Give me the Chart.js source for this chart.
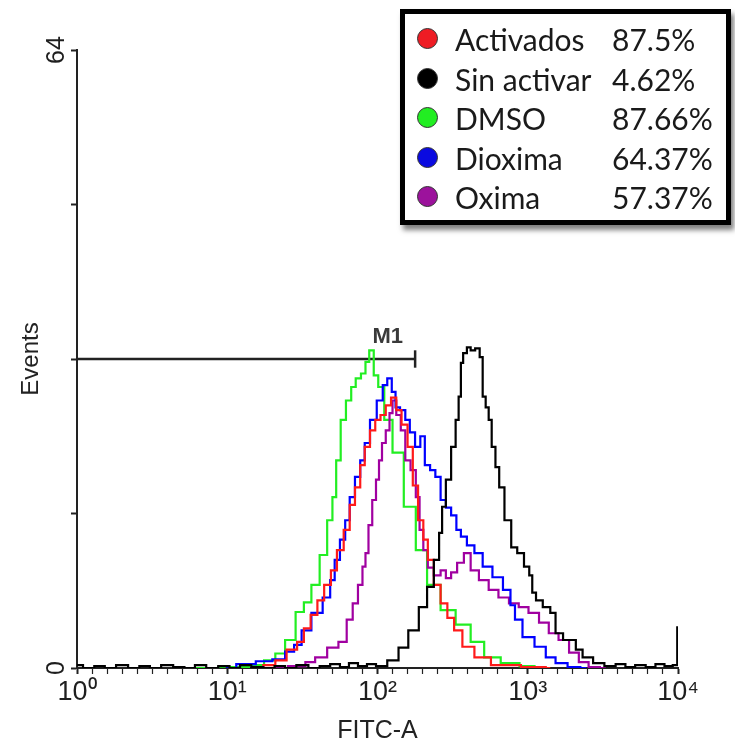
<!DOCTYPE html>
<html>
<head>
<meta charset="utf-8">
<script src="https://cdn.jsdelivr.net/npm/chart.js@4.4.1/dist/chart.umd.min.js"></script>
<style>
body { margin: 0; background: #fff; }
#wrap { position: relative; width: 735px; height: 746px; }
#legend {
    position: absolute; left: 400px; top: 9px; width: 321px; height: 206px;
    border: 5px solid #000; background: #fff;
    box-shadow: 3px 5px 5px rgba(0,0,0,0.5);
    font-family: Lato, "Open Sans", sans-serif; font-size: 30px; color: #1a1a1a;
}
.row { position: absolute; left: 0; height: 36px; line-height: 36px; width: 100%; }
.dot { position: absolute; left: 12px; top: 7px; width: 19px; height: 19px; border-radius: 50%; border: 1.5px solid #333; }
.name { position: absolute; left: 50px; }
.pct { position: absolute; left: 207px; }
</style>
</head>
<body>
<div id="wrap">
<canvas id="histo" width="735" height="746"></canvas>
<div id="legend"></div>
</div>
<script>
// x positions are in decades (log10 of FITC-A), y are events per channel
var activadosLog = [1.19,1.29,1.35,1.44,1.49,1.53,1.58,1.62,1.67,1.71,1.75,1.80,1.83,1.87,1.90,1.93,1.97,2.00,2.04,2.07,2.11,2.14,2.18,2.22,2.25,2.29,2.32,2.35,2.40,2.44,2.49,2.53,2.60,2.69,2.82,3.09,3.15];
var activadosCount = [0,0.3,0.8,1.9,2.7,4.1,5.5,7.0,8.6,10.1,12.2,14.3,16.9,18.7,21.0,22.9,24.6,25.7,26.2,27.2,28.0,26.7,25.2,22.9,18.9,15.3,13.3,11.2,8.6,6.7,5.2,3.9,2.2,1.1,0.3,0.1,0];

var sinActivarLog = [0.00,0.08,0.15,0.22,0.30,0.38,0.45,0.52,0.60,0.68,0.75,0.82,0.90,0.98,1.05,1.12,1.20,1.28,1.35,1.42,1.50,1.58,1.65,1.72,1.78,1.84,1.90,1.96,
    2.02,2.11,2.17,2.24,2.31,2.35,2.40,2.42,2.44,2.47,2.51,2.53,2.55,2.56,2.58,2.61,2.63,2.67,2.69,2.71,
    2.73,2.75,2.77,2.80,2.82,2.87,2.91,2.95,3.00,3.02,3.04,3.07,3.13,3.17,3.20,3.27,3.31,3.33,3.40,3.47,
    3.55,3.62,3.68,3.75,3.82,3.88,3.94,3.99,4.00];
var sinActivarCount = [0.3,0,0.2,0,0.3,0,0.2,0,0.3,0.1,0,0.3,0,0.2,0,0.3,0.1,0,0.2,0,0.3,0,0.2,0.4,0.1,0.5,0.2,0.4,
    0.2,0.8,2.1,3.9,6.3,8.4,11.2,14.0,16.7,19.5,22.9,25.7,28.1,31.6,32.6,33.2,32.9,33.1,32.2,28.1,
    27.0,25.7,22.9,20.8,18.7,15.3,12.5,11.9,10.5,9.6,7.8,7.0,6.3,5.7,3.6,2.9,2.9,1.9,1.1,0.5,
    0.2,0.4,0.1,0.3,0.1,0.4,0.2,0.3,4.2];

var dmsoLog = [0.79,1.09,1.20,1.29,1.35,1.42,1.49,1.53,1.59,1.64,1.69,1.71,1.74,1.77,1.81,1.84,1.87,1.91,1.93,1.96,1.99,2.02,2.07,2.13,2.22,2.29,2.37,2.47,2.57,2.67,2.75,2.89,3.00,3.09];
var dmsoCount = [0,0.1,0.3,0.8,1.5,2.9,5.8,6.8,8.6,11.7,15.3,17.7,21.5,25.7,27.7,29.1,30.0,30.5,31.7,32.9,30.3,29.1,25.7,22.3,16.7,12.2,8.6,6.0,4.5,2.7,1.1,0.5,0.2,0];

var dioximaLog = [0.99,1.13,1.25,1.35,1.42,1.47,1.52,1.60,1.67,1.70,1.73,1.77,1.80,1.83,1.87,1.90,1.93,1.97,2.02,2.05,2.08,2.11,2.13,2.17,2.20,2.23,2.27,2.30,2.33,2.37,2.40,2.44,2.47,2.51,2.54,2.57,2.62,2.67,2.73,2.80,2.87,2.90,2.93,3.00,3.09,3.15,3.22,3.31,3.39];
var dioximaCount = [0,0.4,0.7,0.9,1.7,2.4,3.9,5.7,7.3,9.1,11.2,13.3,15.3,17.7,19.8,21.5,23.3,25.7,27.7,29.3,30.0,28.6,27.0,26.7,25.7,24.4,22.9,24.0,21.0,20.5,19.8,17.4,16.6,15.8,14.3,13.6,12.7,11.9,10.5,9.4,8.1,6.5,5.0,3.2,2.2,1.1,0.5,0.1,0];

var oximaLog = [1.32,1.49,1.55,1.62,1.71,1.77,1.82,1.85,1.89,1.91,1.93,1.95,1.98,2.00,2.02,2.04,2.07,2.09,2.11,2.14,2.17,2.20,2.24,2.27,2.29,2.32,2.35,2.40,2.44,2.47,2.51,2.55,2.60,2.64,2.71,2.77,2.84,2.91,2.97,3.04,3.11,3.17,3.24,3.31,3.37,3.44,3.52];
var oximaCount = [0,0.2,0.6,1.1,2.1,2.7,5.0,6.7,8.6,10.5,11.9,14.8,17.4,19.5,21.5,23.3,24.6,26.4,27.7,26.2,24.6,21.5,20.5,17.7,14.3,12.2,10.4,9.6,10.1,9.3,9.9,10.9,11.9,10.1,9.1,8.1,7.3,6.7,6.3,5.7,4.7,3.6,2.9,1.6,0.6,0.1,0];

// M1 gate marker
var m1Start = 1;
var m1End = 178;
var m1Level = 32;
var m1LabelAt = [117, 34.3];

// legend
var legendNames = ["Activados", "Sin activar", "DMSO", "Dioxima", "Oxima"];
var legendPercents = ["87.5%", "4.62%", "87.66%", "64.37%", "57.37%"];
var legendColors = ["#ee1c24", "#000000", "#22ee22", "#0a0ae0", "#9c129c"];
var lineColors = ["#ff1a1a", "#000000", "#22ee22", "#0000ff", "#a000a0"];

// axis ticks
var xMajorDecades = [0, 1, 2, 3, 4];
var xTickLabels = ["10\u2070", "10\u00b9", "10\u00b2", "10\u00b3", "10\u2074"];
var yTickValues = [0, 16, 32, 48, 64];
var yLabelled = [0, 64];

function toPoints(logs, counts) {
    var pts = [];
    for (var i = 0; i < logs.length; i++) {
        pts.push({x: Math.pow(10, logs[i]), y: counts[i]});
    }
    return pts;
}

function histoDataset(label, logs, counts, color) {
    return {
        label: label,
        data: toPoints(logs, counts),
        borderColor: color,
        backgroundColor: color,
        borderWidth: 2.2,
        pointRadius: 0,
        fill: false,
        stepped: 'middle'
    };
}

// build the legend box
var legendDiv = document.getElementById("legend");
for (var i = 0; i < legendNames.length; i++) {
    var row = document.createElement("div");
    row.className = "row";
    row.style.top = (7 + i * 39.5) + "px";
    row.innerHTML = '<span class="dot" style="background:' + legendColors[i] + '"></span>' +
        '<span class="name">' + legendNames[i] + '</span>' +
        '<span class="pct">' + legendPercents[i] + '</span>';
    legendDiv.appendChild(row);
}

var m1Plugin = {
    id: 'm1label',
    afterDatasetsDraw: function (chart) {
        var ctx = chart.ctx;
        ctx.save();
        ctx.font = 'bold 22px "Liberation Sans", Arial, sans-serif';
        ctx.fillStyle = '#3a3a3a';
        ctx.textAlign = 'center';
        ctx.textBaseline = 'middle';
        ctx.fillText('M1', chart.scales.x.getPixelForValue(m1LabelAt[0]), chart.scales.y.getPixelForValue(m1LabelAt[1]));
        ctx.restore();
    }
};

var datasets = [
    histoDataset(legendNames[1], sinActivarLog, sinActivarCount, lineColors[1]),
    histoDataset(legendNames[0], activadosLog, activadosCount, lineColors[0]),
    histoDataset(legendNames[3], dioximaLog, dioximaCount, lineColors[3]),
    histoDataset(legendNames[4], oximaLog, oximaCount, lineColors[4]),
    histoDataset(legendNames[2], dmsoLog, dmsoCount, lineColors[2]),
    {
        label: 'M1',
        data: [{x: m1Start, y: m1Level}, {x: m1End, y: m1Level}],
        borderColor: '#222', borderWidth: 2.5, pointRadius: 0, fill: false
    },
    {
        label: 'M1 end',
        data: [{x: m1End, y: m1Level - 0.9}, {x: m1End, y: m1Level + 0.9}],
        borderColor: '#222', borderWidth: 2.5, pointRadius: 0, fill: false
    }
];

var axisFont = '"Liberation Sans", Arial, sans-serif';

var chart = new Chart(document.getElementById("histo"), {
    type: 'line',
    data: {datasets: datasets},
    options: {
        responsive: false,
        animation: false,
        layout: {padding: {top: 50, right: 57, bottom: 0, left: 0}},
        plugins: {legend: {display: false}, tooltip: {enabled: false}},
        scales: {
            x: {
                type: 'logarithmic',
                min: 1,
                max: 10000,
                afterBuildTicks: function (scale) {
                    var t = [];
                    for (var k = 0; k <= 40; k++) t.push({value: Math.pow(10, k / 10)});
                    scale.ticks = t;
                },
                afterFit: function (scale) { scale.height = 78; },
                grid: {drawOnChartArea: false, tickLength: 6, color: '#222',
                    tickWidth: function (c) { return c.index % 10 === 0 ? 2 : 1.2; }},
                border: {color: '#222', width: 2},
                ticks: {
                    autoSkip: false, minRotation: 0, maxRotation: 0, padding: 2,
                    color: '#1e1e1e', font: {family: axisFont, size: 27},
                    callback: function (value) {
                        var d = Math.log10(value);
                        var idx = xMajorDecades.indexOf(Math.round(d));
                        if (Math.abs(d - Math.round(d)) < 1e-6 && idx >= 0) return xTickLabels[idx];
                        return '';
                    }
                },
                title: {display: true, text: 'FITC-A', color: '#222',
                    font: {family: axisFont, size: 25}, padding: {top: 0, bottom: 0}}
            },
            y: {
                min: 0,
                max: 64,
                afterBuildTicks: function (scale) {
                    scale.ticks = yTickValues.map(function (v) { return {value: v}; });
                },
                afterFit: function (scale) { scale.width = 77; },
                grid: {drawOnChartArea: false, tickLength: 6, color: '#222', tickWidth: 2},
                border: {color: '#222', width: 2},
                ticks: {
                    minRotation: 90, maxRotation: 90, crossAlign: 'center', padding: 0,
                    color: '#1e1e1e', font: {family: axisFont, size: 25},
                    callback: function (value) {
                        return yLabelled.indexOf(value) >= 0 ? String(value) : '';
                    }
                },
                title: {display: true, text: 'Events', color: '#222',
                    font: {family: axisFont, size: 24}, padding: {top: 17, bottom: 0}}
            }
        }
    },
    plugins: [m1Plugin]
});
</script>
</body>
</html>
